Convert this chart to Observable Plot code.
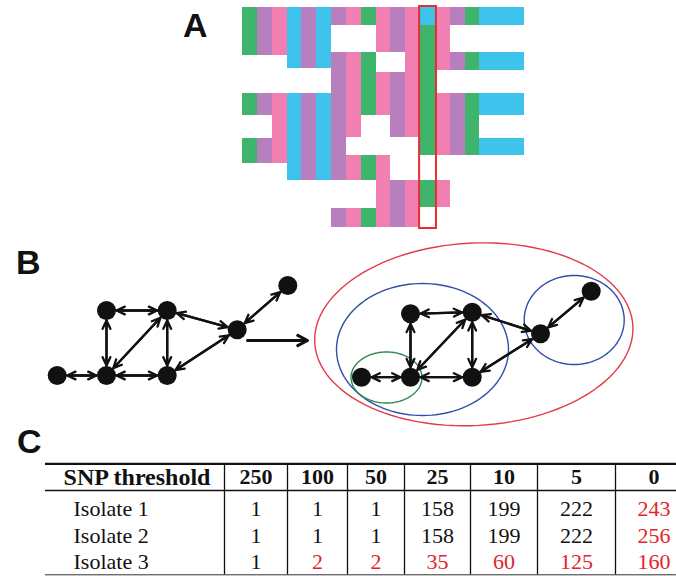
<!DOCTYPE html>
<html><head><meta charset="utf-8">
<script src="https://cdn.jsdelivr.net/npm/d3@7"></script>
<script src="https://cdn.jsdelivr.net/npm/@observablehq/plot@0.6"></script>
<style>
body{margin:0;background:#fff;}
#fig{position:relative;width:676px;height:576px;overflow:hidden;background:#fff;}
#fig svg{position:absolute;left:0;background:transparent;}
.lab{position:absolute;font-family:"Liberation Sans",Arial,sans-serif;font-weight:bold;font-size:34px;line-height:1;color:#111;}
</style></head><body><div id="fig"></div>
<script>
// ---------- Panel A: alignment of SNP columns ----------
const alignPalette = {G:"#3fb46c", P:"#b77fbe", K:"#f27fb1", C:"#3ec3ec"};
const alignColumnBase = ["G","P","K","C","P","C","P","K","G","K","P","K","G","K","P","G","C","C","C"];
// filled spans per column (row units from top, 0..220); optional colour override
const alignSpans = [
  [[0,48],[86,108],[131,156]],
  [[0,48],[86,108],[131,156]],
  [[0,48],[86,156]],
  [[0,61],[86,173]],
  [[0,61],[86,173]],
  [[0,61],[86,173]],
  [[0,18],[45,173],[201,220]],
  [[0,18],[45,130],[148,173],[201,220]],
  [[0,18],[45,108],[148,173],[201,220]],
  [[0,45],[65,108],[148,220]],
  [[0,45],[65,130],[173,220]],
  [[0,130],[173,220]],
  [[0,18,"C"],[18,148],[173,200]],
  [[0,63],[86,148],[173,200]],
  [[0,18],[45,63],[86,148]],
  [[0,18],[45,63],[86,148]],
  [[0,18],[45,63],[86,108],[131,148]],
  [[0,18],[45,63],[86,108],[131,148]],
  [[0,18],[45,63],[86,108],[131,148]]
];
const highlightedColumn = [12];

// ---------- Panel B: network ----------
const leftNodeX  = [56.7,106,106,166.7,166.7,236.7,287.3];
const leftNodeY  = [135,70,135,70,135,89.3,45];
const rightNodeX = [361,410,410,471.7,471.7,540,590.7];
const rightNodeY = [136.7,73.3,136.7,71.7,136.7,93.3,50.7];
const edgeFrom = [0,1,1,2,3,2,3,4,5];
const edgeTo   = [2,3,2,3,4,4,5,5,6];
const transformFrom = [247,100];
const transformTo = [307,100];
const clusterCX = [473.3,422,573.7,386];
const clusterCY = [93.8,109,79.5,137];
const clusterRX = [159.3,86,50,35.5];
const clusterRY = [91.2,66,44.5,25.5];
const clusterRot = [-3,0,0,0];
const clusterColor = ["#e23c46","#2f4fa8","#2f4fa8","#2d8a4e"];

// ---------- Panel C: table ----------
const snpThresholds = [250,100,50,25,10,5,0];
const isolateNames = ["Isolate 1","Isolate 2","Isolate 3"];
const isolate1Counts = [1,1,1,158,199,222,243];
const isolate2Counts = [1,1,1,158,199,222,256];
const isolate3Counts = [1,2,2,35,60,125,160];
const isolate1Red = [0,0,0,0,0,0,1];
const isolate2Red = [0,0,0,0,0,0,1];
const isolate3Red = [0,1,1,1,1,1,1];
const tableEdges = [45,224,287,347,404,470,537,615,692];
const tableRowY = [21.7,53.3,80,106.7];
const tableLines = [8.3,35,119.3];

const fig = document.getElementById("fig");

// Panel A plot
const cells = [];
alignSpans.forEach((spans,c)=>spans.forEach(s=>cells.push({c, y0:s[0], y1:s[1], fill:alignPalette[s[2]||alignColumnBase[c]]})));
const boxData = highlightedColumn.map(c=>({c, y0:0, y1:220}));
const plotA = Plot.plot({
  width:676, height:240, marginLeft:242, marginRight:152, marginTop:7, marginBottom:13,
  x:{domain:[0,19], axis:null}, y:{domain:[0,220], reverse:true, axis:null},
  color:{type:"identity"},
  marks:[
    Plot.rect(cells,{x1:"c", x2:d=>d.c+1, y1:"y0", y2:"y1", fill:"fill", shapeRendering:"crispEdges"}),
    Plot.rect(boxData,{x1:"c", x2:d=>d.c+1, y1:"y0", y2:"y1", fill:"none", stroke:"#e2302f", strokeWidth:2, inset:-1})
  ]
});
plotA.style.top = "0px";
fig.appendChild(plotA);

// Panel B plot
const graphs = [[leftNodeX,leftNodeY],[rightNodeX,rightNodeY]];
const nodes = [], arrows = [];
graphs.forEach(([gx,gy])=>{
  gx.forEach((x,i)=>nodes.push({x, y:gy[i]}));
  edgeFrom.forEach((a,k)=>{
    const b = edgeTo[k];
    arrows.push({x1:gx[a],y1:gy[a],x2:gx[b],y2:gy[b]});
    arrows.push({x1:gx[b],y1:gy[b],x2:gx[a],y2:gy[a]});
  });
});
const ellipseMarks = clusterCX.map((cx,i)=>{
  const pts = d3.range(0,120).map(k=>{
    const t = k/120*2*Math.PI, th = clusterRot[i]*Math.PI/180;
    const ex = clusterRX[i]*Math.cos(t), ey = clusterRY[i]*Math.sin(t);
    return {x: cx + ex*Math.cos(th) - ey*Math.sin(th), y: clusterCY[i] + ex*Math.sin(th) + ey*Math.cos(th)};
  });
  return Plot.line(pts,{x:"x", y:"y", stroke:clusterColor[i], strokeWidth:1.4, curve:"linear-closed"});
});
const plotB = Plot.plot({
  width:676, height:200, margin:0,
  x:{domain:[0,676], range:[0,676], axis:null}, y:{domain:[0,200], range:[0,200], axis:null},
  marks:[
    ...ellipseMarks,
    Plot.arrow(arrows,{x1:"x1",y1:"y1",x2:"x2",y2:"y2", insetStart:10, insetEnd:10, stroke:"#111", strokeWidth:2.3, headLength:6, headAngle:50}),
    Plot.arrow([{x1:transformFrom[0],y1:transformFrom[1],x2:transformTo[0],y2:transformTo[1]}],{x1:"x1",y1:"y1",x2:"x2",y2:"y2", stroke:"#111", strokeWidth:3, headLength:5.5, headAngle:55}),
    Plot.dot(nodes,{x:"x", y:"y", r:9.5, fill:"#111", stroke:"none"})
  ]
});
plotB.style.top = "240px";
fig.appendChild(plotB);

// Panel C plot
const colCenter = i => (tableEdges[i]+tableEdges[i+1])/2;
const header = snpThresholds.map((v,i)=>({x:colCenter(i+1), y:tableRowY[0], t:String(v)}));
const headerLabel = [{x:colCenter(0)+2, y:tableRowY[0], t:"SNP threshold"}];
const countsAll = [isolate1Counts,isolate2Counts,isolate3Counts];
const redAll = [isolate1Red,isolate2Red,isolate3Red];
const body = [];
countsAll.forEach((arr,r)=>arr.forEach((v,i)=>body.push({x:colCenter(i+1), y:tableRowY[r+1], t:String(v), fill: redAll[r][i] ? "#e3232b" : "#111"})));
const labels = isolateNames.map((n,r)=>({x:tableEdges[0]+28, y:tableRowY[r+1], t:n}));
const serif = "Liberation Serif, Times New Roman, serif";
const plotC = Plot.plot({
  width:676, height:121, margin:0,
  x:{domain:[0,676], range:[0,676], axis:null}, y:{domain:[0,121], range:[0,121], axis:null},
  color:{type:"identity"},
  marks:[
    Plot.ruleY([tableLines[0]],{x1:tableEdges[0], x2:676, stroke:"#111", strokeWidth:2.2}),
    Plot.ruleY([tableLines[1]],{x1:tableEdges[0], x2:676, stroke:"#111", strokeWidth:1.5}),
    Plot.ruleY([tableLines[2]],{x1:tableEdges[0], x2:676, stroke:"#333", strokeWidth:1}),
    Plot.ruleX(tableEdges.slice(1,-1),{y1:tableLines[0], y2:tableLines[2], stroke:"#111", strokeWidth:1.3}),
    Plot.text(headerLabel,{x:"x", y:"y", text:"t", fontFamily:serif, fontWeight:"bold", fontSize:24, fill:"#111"}),
    Plot.text(header,{x:"x", y:"y", text:"t", fontFamily:serif, fontWeight:"bold", fontSize:22, fill:"#111"}),
    Plot.text(labels,{x:"x", y:"y", text:"t", textAnchor:"start", fontFamily:serif, fontSize:22, fill:"#111"}),
    Plot.text(body,{x:"x", y:"y", text:"t", fill:"fill", fontFamily:serif, fontSize:22})
  ]
});
plotC.style.top = "455px";
fig.appendChild(plotC);

// Panel letters
[["A",183,8],["B",16,244.5],["C",17,424]].forEach(([t,l,tp])=>{
  const d = document.createElement("div");
  d.className = "lab"; d.textContent = t;
  d.style.left = l+"px"; d.style.top = tp+"px";
  fig.appendChild(d);
});
</script></body></html>
